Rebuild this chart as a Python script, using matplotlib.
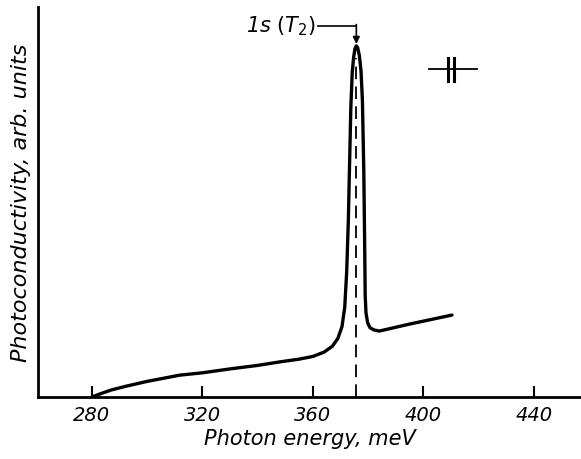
import matplotlib.pyplot as plt
import numpy as np

# photoconductivity spectrum
energy = [280, 283, 287, 292.6, 300, 311.8, 320, 330, 340, 348, 355, 360,
          364, 367, 369, 370.5, 371.5, 372.2, 372.8, 373.2, 373.7, 374.2,
          374.7, 375.2, 375.7, 376.2, 376.8, 377.4, 377.9, 378.4, 378.7,
          378.9, 379.2, 379.8, 380.6, 382, 384, 395, 410.3]
signal = [0.0, 0.008, 0.018, 0.028, 0.04, 0.056, 0.062, 0.072, 0.081, 0.09,
          0.097, 0.104, 0.115, 0.13, 0.15, 0.18, 0.23, 0.32, 0.45, 0.58,
          0.74, 0.83, 0.87, 0.893, 0.9, 0.895, 0.875, 0.835, 0.76, 0.58,
          0.40, 0.26, 0.215, 0.19, 0.178, 0.172, 0.169, 0.187, 0.21]

peak_pos = 375.7
peak_label = r'1s $(T_2)$'
xticks = [280, 320, 360, 400, 440]

# spectral resolution marker
res_x = [402, 419.4]
res_y = 0.841
res_bars = [408.8, 411.2]

fig = plt.figure(figsize=(5.81, 4.6), dpi=100)
ax = fig.add_axes([0.0654, 0.1348, 0.9346, 0.848])

ax.plot(energy, signal, color='black', lw=2.4, solid_joinstyle='round',
        solid_capstyle='round')
ax.plot([peak_pos, peak_pos], [0, 0.87], color='black', lw=1.3,
        dashes=(7, 4))

# label with arrow to the peak
ax.text(361.2, 0.953, peak_label, fontsize=15, style='italic',
        ha='right', va='center')
ax.plot([361.8, peak_pos], [0.951, 0.951], color='black', lw=1.2)
ax.annotate('', xy=(peak_pos, 0.905), xytext=(peak_pos, 0.955),
            arrowprops=dict(arrowstyle='-|>', color='black', lw=1.2,
                            mutation_scale=10, shrinkA=0, shrinkB=0))

# resolution symbol
ax.plot(res_x, [res_y, res_y], color='black', lw=1.3)
for b in res_bars:
    ax.plot([b, b], [res_y - 0.03, res_y + 0.027], color='black', lw=2.2)

ax.set_xlim(260.5, 457)
ax.set_ylim(0, 1)
ax.set_xticks(xticks)
ax.set_yticks([])
ax.tick_params(axis='x', direction='in', length=8, width=1.5, pad=6,
               labelsize=14)
for lab in ax.get_xticklabels():
    lab.set_style('italic')
ax.spines['top'].set_visible(False)
ax.spines['right'].set_visible(False)
ax.spines['left'].set_linewidth(2)
ax.spines['bottom'].set_linewidth(2)

ax.set_xlabel('Photon energy, meV', fontsize=15, style='italic', labelpad=3)
ax.set_ylabel('Photoconductivity, arb. units', fontsize=16, style='italic',
              labelpad=5)

fig.savefig('out.png', dpi=100)
